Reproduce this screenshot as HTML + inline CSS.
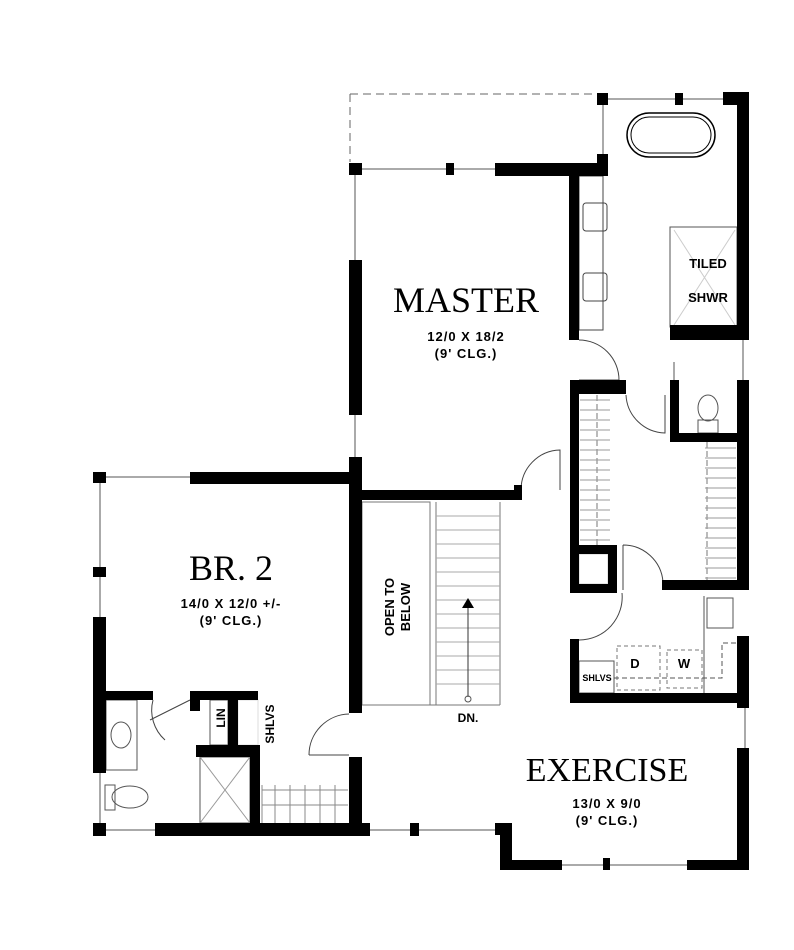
<!DOCTYPE html>
<html><head><meta charset="utf-8"><style>
html,body{margin:0;padding:0;background:#fff;}
svg{display:block;}
.t{font-family:"Liberation Serif",serif;fill:#000;}
.s{font-family:"Liberation Sans",sans-serif;fill:#000;font-weight:bold;}
</style></head><body>
<svg width="794" height="950" viewBox="0 0 794 950" xmlns="http://www.w3.org/2000/svg">
<g fill="none" stroke="#000" stroke-width="1">
 <!-- dashed deck -->
 <path d="M350 94 H597 M350 94 V162" stroke-dasharray="8,5" stroke="#666"/>
 <!-- thin window lines -->
 <path d="M608 99 H725 M603 105 V155 M362 169 H495 M355 175 V260 M355 415 V457 M106 477 H190 M100 483 V567 M100 577 V617 M100 773 V823 M106 830 H156 M370 830 H410 M419 830 H497 M512 865 H687 M743 340 V380 M745 703 V748 M674 362 V380" stroke="#555"/>
 <!-- tub -->
 <rect x="627" y="113" width="88" height="44" rx="22" stroke-width="1.5"/>
 <rect x="631" y="117" width="80" height="36" rx="18"/>
 <!-- vanity -->
 <rect x="579" y="176" width="24" height="154" stroke="#444"/>
 <rect x="583" y="203" width="24" height="28" rx="3" stroke="#444"/>
 <rect x="583" y="273" width="24" height="28" rx="3" stroke="#444"/>
 <!-- shower -->
 <rect x="670" y="227" width="67" height="100" stroke="#555"/>
 <path d="M674 230 L735 325 M735 230 L674 325" stroke="#ccc"/>
 <!-- door arcs -->
 <path d="M579 340 A40 40 0 0 1 619 380 H579" stroke="#444"/>
 <path d="M626 395 A40 40 0 0 0 665 433 V395" stroke="#444"/>
 <path d="M521 490 A40 40 0 0 1 560 450 V490" stroke="#444"/>
 <path d="M623 545 A40 40 0 0 1 663 582 M623 545 V590" stroke="#444"/>
 <path d="M622 593 A43 43 0 0 1 579 640" stroke="#444"/>
 <path d="M309 755 A41 41 0 0 1 349 714 M309 755 H349" stroke="#444"/>
 <path d="M153 700 A40 40 0 0 0 165 740 M150 720 L190 700" stroke="#444"/>
 <!-- toilet master -->
 <ellipse cx="708" cy="408" rx="10" ry="13" stroke="#555"/>
 <rect x="698" y="420" width="20" height="13" stroke="#555"/>
 <!-- closet shelves master -->
 <path d="M597 395 V545 M707 442 V580" stroke="#777" stroke-dasharray="6,3"/>
 <g stroke="#999">
  <path d="M580 400 H610 M580 410 H610 M580 420 H610 M580 430 H610 M580 440 H610 M580 450 H610 M580 460 H610 M580 470 H610 M580 480 H610 M580 490 H610 M580 500 H610 M580 510 H610 M580 520 H610 M580 530 H610 M580 540 H610"/>
  <path d="M705 448 H736 M705 458 H736 M705 468 H736 M705 478 H736 M705 488 H736 M705 498 H736 M705 508 H736 M705 518 H736 M705 528 H736 M705 538 H736 M705 548 H736 M705 558 H736 M705 568 H736 M705 578 H736"/>
 </g>
 <rect x="579" y="554" width="29" height="30" stroke="#ccc"/>
 <!-- stairs -->
 <rect x="362" y="502" width="68" height="203" stroke="#777"/>
 <path d="M430 502 V705 H500 M436 502 V705 M500 502 V705" stroke="#777"/>
 <g stroke="#aaa">
  <path d="M436 516 H500 M436 530 H500 M436 544 H500 M436 558 H500 M436 572 H500 M436 586 H500 M436 600 H500 M436 614 H500 M436 628 H500 M436 642 H500 M436 656 H500 M436 670 H500 M436 684 H500"/>
 </g>
 <path d="M468 697 V606" stroke="#333"/>
 <circle cx="468" cy="699" r="3" stroke="#555"/>
 <!-- br2 bath -->
 <rect x="106" y="700" width="31" height="70" stroke="#555"/>
 <ellipse cx="121" cy="735" rx="10" ry="13" stroke="#555"/>
 <ellipse cx="130" cy="797" rx="18" ry="11" stroke="#555"/>
 <rect x="105" y="785" width="10" height="25" stroke="#555"/>
 <rect x="200" y="757" width="50" height="66" stroke="#555"/>
 <path d="M200 757 L250 823 M250 757 L200 823" stroke="#999"/>
 <rect x="210" y="700" width="18" height="45" stroke="#555"/>
 <rect x="238" y="700" width="20" height="45" stroke="#ddd"/>
 <g stroke="#888"><path d="M262 790 H348 M262 805 H348 M262 785 V823 M275 785 V823 M290 785 V823 M305 785 V823 M320 785 V823 M335 785 V823"/></g>
 <!-- laundry -->
 <rect x="579" y="661" width="35" height="32" stroke="#555"/>
 <rect x="617" y="646" width="43" height="44" stroke="#777" stroke-dasharray="4,3"/>
 <rect x="667" y="650" width="35" height="38" stroke="#777" stroke-dasharray="4,3"/>
 <path d="M614 678 H722 V643 H737" stroke="#555" stroke-dasharray="5,3"/>
 <path d="M704 596 V693" stroke="#555"/>
 <rect x="707" y="598" width="26" height="30" stroke="#555"/>
</g>
<path d="M468 598 L462 608 H474 Z" fill="#000"/>
<g fill="#000">
 <!-- posts / walls top -->
 <rect x="597" y="93" width="11" height="12"/>
 <rect x="675" y="93" width="8" height="12"/>
 <rect x="723" y="92" width="26" height="13"/>
 <rect x="737" y="92" width="12" height="248"/>
 <rect x="349" y="163" width="13" height="12"/>
 <rect x="446" y="163" width="8" height="12"/>
 <rect x="495" y="163" width="113" height="13"/>
 <rect x="597" y="154" width="11" height="22"/>
 <rect x="569" y="176" width="10" height="164"/>
 <rect x="670" y="325" width="79" height="15"/>
 <rect x="349" y="260" width="13" height="155"/>
 <!-- closets -->
 <rect x="570" y="380" width="9" height="213"/>
 <rect x="570" y="380" width="56" height="14"/>
 <rect x="670" y="380" width="9" height="62"/>
 <rect x="670" y="433" width="79" height="9"/>
 <rect x="737" y="380" width="12" height="210"/>
 <rect x="570" y="545" width="47" height="9"/>
 <rect x="608" y="545" width="9" height="48"/>
 <rect x="570" y="584" width="47" height="9"/>
 <rect x="662" y="580" width="87" height="10"/>
 <rect x="737" y="636" width="12" height="72"/>
 <rect x="570" y="639" width="9" height="64"/>
 <rect x="570" y="693" width="179" height="10"/>
 <rect x="737" y="748" width="12" height="122"/>
 <rect x="687" y="860" width="62" height="10"/>
 <rect x="603" y="858" width="7" height="12"/>
 <rect x="500" y="860" width="62" height="10"/>
 <rect x="500" y="823" width="12" height="47"/>
 <rect x="495" y="823" width="15" height="12"/>
 <!-- stair walls -->
 <rect x="349" y="457" width="13" height="256"/>
 <rect x="349" y="490" width="171" height="10"/>
 <rect x="514" y="485" width="8" height="15"/>
 <rect x="349" y="757" width="13" height="78"/>
 <!-- BR2 -->
 <rect x="93" y="472" width="13" height="11"/>
 <rect x="190" y="472" width="168" height="12"/>
 <rect x="93" y="567" width="13" height="10"/>
 <rect x="93" y="617" width="13" height="156"/>
 <rect x="93" y="823" width="13" height="13"/>
 <rect x="155" y="823" width="215" height="13"/>
 <rect x="410" y="823" width="9" height="13"/>
 <rect x="106" y="691" width="47" height="9"/>
 <rect x="190" y="691" width="68" height="9"/>
 <rect x="190" y="691" width="10" height="20"/>
 <rect x="228" y="691" width="10" height="57"/>
 <rect x="196" y="745" width="62" height="12"/>
 <rect x="250" y="745" width="10" height="78"/>
</g>
<!-- labels -->
<text class="t" x="466" y="312" font-size="36" text-anchor="middle">MASTER</text>
<text class="s" x="466" y="341" font-size="13" text-anchor="middle" font-weight="normal" letter-spacing="1">12/0 X 18/2</text>
<text class="s" x="466" y="358" font-size="13" text-anchor="middle" font-weight="normal" letter-spacing="1">(9' CLG.)</text>
<text class="s" x="708" y="268" font-size="13" text-anchor="middle">TILED</text>
<text class="s" x="708" y="302" font-size="13" text-anchor="middle">SHWR</text>
<text class="t" x="231" y="580" font-size="36" text-anchor="middle">BR. 2</text>
<text class="s" x="231" y="608" font-size="13" text-anchor="middle" font-weight="normal" letter-spacing="1">14/0 X 12/0 +/-</text>
<text class="s" x="231" y="625" font-size="13" text-anchor="middle" font-weight="normal" letter-spacing="1">(9' CLG.)</text>
<text class="s" font-size="13" text-anchor="middle" transform="translate(394,607) rotate(-90)" font-weight="normal">OPEN TO</text>
<text class="s" font-size="13" text-anchor="middle" transform="translate(410,607) rotate(-90)" font-weight="normal">BELOW</text>
<text class="s" x="468" y="722" font-size="12" text-anchor="middle" font-weight="normal">DN.</text>
<text class="s" font-size="12" text-anchor="middle" transform="translate(225,718) rotate(-90)">LIN</text>
<text class="s" font-size="12" text-anchor="middle" transform="translate(274,724) rotate(-90)">SHLVS</text>
<text class="t" x="607" y="781" font-size="34" text-anchor="middle">EXERCISE</text>
<text class="s" x="607" y="808" font-size="13" text-anchor="middle" font-weight="normal" letter-spacing="1">13/0 X 9/0</text>
<text class="s" x="607" y="825" font-size="13" text-anchor="middle" font-weight="normal" letter-spacing="1">(9' CLG.)</text>
<text class="s" x="635" y="668" font-size="13" text-anchor="middle">D</text>
<text class="s" x="684" y="668" font-size="13" text-anchor="middle">W</text>
<text class="s" x="597" y="681" font-size="9" text-anchor="middle">SHLVS</text>
</svg>
</body></html>
